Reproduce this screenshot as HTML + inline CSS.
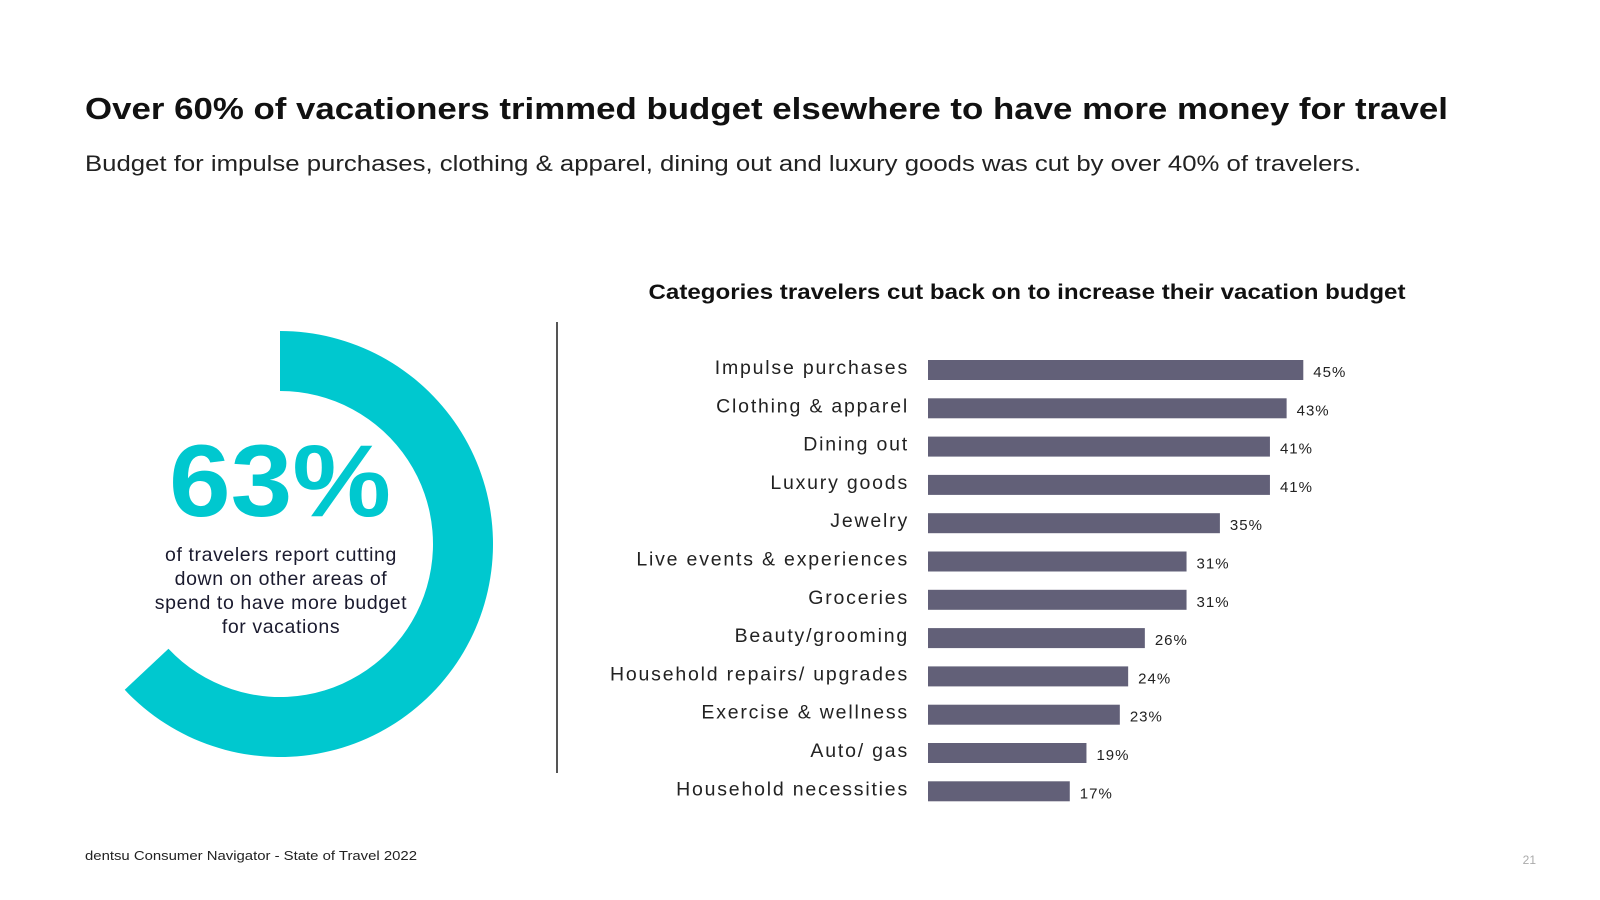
<!DOCTYPE html>
<html><head><meta charset="utf-8"><style>
html,body{margin:0;padding:0;background:#fff;}
svg{display:block;font-family:"Liberation Sans",sans-serif;}
</style></head><body>
<svg id="c" width="1600" height="900" viewBox="0 0 1600 900">
<text x="85" y="119" font-size="31" font-weight="bold" fill="#111" textLength="1363" lengthAdjust="spacingAndGlyphs">Over 60% of vacationers trimmed budget elsewhere to have more money for travel</text>
<text x="85" y="171" font-size="22" fill="#222" textLength="1276" lengthAdjust="spacingAndGlyphs">Budget for impulse purchases, clothing &amp; apparel, dining out and luxury goods was cut by over 40% of travelers.</text>
<g id="donut"></g>
<text x="280" y="516" font-size="102" font-weight="bold" fill="#00c8cf" text-anchor="middle" textLength="222" lengthAdjust="spacingAndGlyphs">63%</text>
<g font-size="19.5" fill="#1a1a2e" text-anchor="middle" letter-spacing="0.6">
<text x="281" y="561">of travelers report cutting</text>
<text x="281" y="585">down on other areas of</text>
<text x="281" y="609">spend to have more budget</text>
<text x="281" y="633">for vacations</text>
</g>
<line x1="557" y1="322" x2="557" y2="773" stroke="#555" stroke-width="2"/>
<text x="1027" y="299" font-size="21" font-weight="bold" fill="#111" text-anchor="middle" textLength="757" lengthAdjust="spacingAndGlyphs">Categories travelers cut back on to increase their vacation budget</text>
<g id="bars"></g>
<text x="85" y="860" font-size="13" fill="#222" textLength="332" lengthAdjust="spacingAndGlyphs">dentsu Consumer Navigator - State of Travel 2022</text>
<text x="1536" y="864" font-size="12" fill="#aaa" text-anchor="end">21</text>
</svg>
<script>
const categories=["Impulse purchases","Clothing & apparel","Dining out","Luxury goods","Jewelry","Live events & experiences","Groceries","Beauty/grooming","Household repairs/ upgrades","Exercise & wellness","Auto/ gas","Household necessities"];
const values=[45,43,41,41,35,31,31,26,24,23,19,17];
const donutValue=[63];
const NS="http://www.w3.org/2000/svg";
const x0=928,pxPer=8.34,yTop=370,step=38.3,bh=20;
const xs=v=>x0+v*pxPer, ys=i=>yTop+i*step;
const g=document.getElementById('bars');
categories.forEach((c,i)=>{
 const r=document.createElementNS(NS,'rect');
 r.setAttribute('x',x0);r.setAttribute('y',ys(i)-bh/2);
 r.setAttribute('width',xs(values[i])-x0);r.setAttribute('height',bh);r.setAttribute('fill','#626078');
 
 
 g.appendChild(r);
 const l=document.createElementNS(NS,'text');
 l.setAttribute('x',909);l.setAttribute('y',ys(i)+4);l.setAttribute('text-anchor','end');
 l.setAttribute('font-size','19.5');l.setAttribute('fill','#222');l.setAttribute('letter-spacing','1.8');
 l.textContent=c;
 
 
 g.appendChild(l);
 const t=document.createElementNS(NS,'text');
 t.setAttribute('x',xs(values[i])+10);t.setAttribute('y',ys(i)+7);
 t.setAttribute('font-size','15');t.setAttribute('fill','#222');t.setAttribute('letter-spacing','1');
 t.textContent=values[i]+'%';
 
 
 g.appendChild(t);
});
const cx=280,cy=544,R=213,r0=153;
const a=donutValue[0]/100*2*Math.PI;
const pt=(rad,ang)=>[cx+rad*Math.sin(ang),cy-rad*Math.cos(ang)];
const [ox,oy]=pt(R,a),[ix,iy]=pt(r0,a);
const large=a>Math.PI?1:0;
const p=document.createElementNS(NS,'path');
p.setAttribute('d',`M${cx},${cy-R} A${R},${R} 0 ${large} 1 ${ox},${oy} L${ix},${iy} A${r0},${r0} 0 ${large} 0 ${cx},${cy-r0} Z`);
p.setAttribute('fill','#00c8cf');


document.getElementById('donut').appendChild(p);
</script>
</body></html>
